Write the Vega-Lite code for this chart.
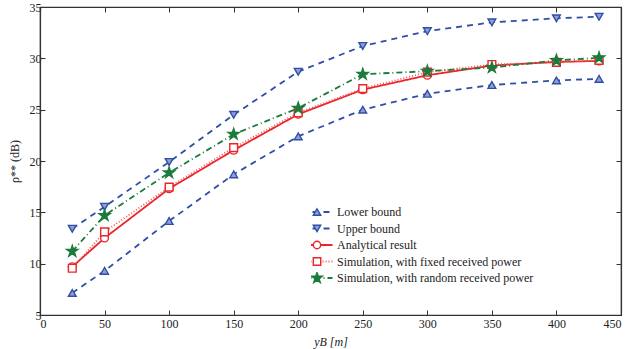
{
  "$schema": "https://vega.github.io/schema/vega-lite/v6.json",
  "width": 581,
  "height": 308,
  "autosize": {"type": "none"},
  "padding": {"left": 40, "top": 7, "right": 11, "bottom": 34},
  "config": {
    "view": {"stroke": "#333333", "strokeWidth": 1.2},
    "font": "Liberation Serif",
    "axis": {"grid": false, "domainColor": "#333333", "domainWidth": 1.2, "tickColor": "#333333", "tickSize": -5, "labelFont": "Liberation Serif", "labelFontSize": 12, "labelColor": "#222222", "titleFont": "Liberation Serif", "titleFontSize": 12, "titleFontWeight": "normal", "titleColor": "#222222"}
  },
  "data": {"values": [
    {"x": 25, "y": 7.15, "s": "Lower bound", "m": "Lower bound"},
    {"x": 50, "y": 9.3, "s": "Lower bound", "m": "Lower bound"},
    {"x": 100, "y": 14.15, "s": "Lower bound", "m": "Lower bound"},
    {"x": 150, "y": 18.7, "s": "Lower bound", "m": "Lower bound"},
    {"x": 200, "y": 22.4, "s": "Lower bound", "m": "Lower bound"},
    {"x": 250, "y": 25.0, "s": "Lower bound", "m": "Lower bound"},
    {"x": 300, "y": 26.55, "s": "Lower bound", "m": "Lower bound"},
    {"x": 350, "y": 27.4, "s": "Lower bound", "m": "Lower bound"},
    {"x": 400, "y": 27.85, "s": "Lower bound", "m": "Lower bound"},
    {"x": 433, "y": 28.0, "s": "Lower bound", "m": "Lower bound"},
    {"x": 25, "y": 13.4, "s": "Upper bound", "m": "Upper bound"},
    {"x": 50, "y": 15.55, "s": "Upper bound", "m": "Upper bound"},
    {"x": 100, "y": 19.9, "s": "Upper bound", "m": "Upper bound"},
    {"x": 150, "y": 24.5, "s": "Upper bound", "m": "Upper bound"},
    {"x": 200, "y": 28.7, "s": "Upper bound", "m": "Upper bound"},
    {"x": 250, "y": 31.2, "s": "Upper bound", "m": "Upper bound"},
    {"x": 300, "y": 32.65, "s": "Upper bound", "m": "Upper bound"},
    {"x": 350, "y": 33.5, "s": "Upper bound", "m": "Upper bound"},
    {"x": 400, "y": 33.9, "s": "Upper bound", "m": "Upper bound"},
    {"x": 433, "y": 34.05, "s": "Upper bound", "m": "Upper bound"},
    {"x": 25, "y": 9.7, "s": "Analytical result", "m": "Analytical result"},
    {"x": 50, "y": 12.5, "s": "Analytical result", "m": "Analytical result"},
    {"x": 100, "y": 17.3, "s": "Analytical result", "m": "Analytical result"},
    {"x": 150, "y": 21.05, "s": "Analytical result", "m": "Analytical result"},
    {"x": 200, "y": 24.55, "s": "Analytical result", "m": "Analytical result"},
    {"x": 250, "y": 26.95, "s": "Analytical result", "m": "Analytical result"},
    {"x": 300, "y": 28.35, "s": "Analytical result", "m": "Analytical result"},
    {"x": 350, "y": 29.3, "s": "Analytical result", "m": "Analytical result"},
    {"x": 400, "y": 29.65, "s": "Analytical result", "m": "Analytical result"},
    {"x": 433, "y": 29.75, "s": "Analytical result", "m": "Analytical result"},
    {"x": 25, "y": 9.55, "s": "Simulation, with fixed received power", "m": "Simulation, with fixed received power"},
    {"x": 50, "y": 13.1, "s": "Simulation, with fixed received power", "m": "Simulation, with fixed received power"},
    {"x": 100, "y": 17.45, "s": "Simulation, with fixed received power", "m": "Simulation, with fixed received power"},
    {"x": 150, "y": 21.3, "s": "Simulation, with fixed received power", "m": "Simulation, with fixed received power"},
    {"x": 200, "y": 24.7, "s": "Simulation, with fixed received power", "m": "Simulation, with fixed received power"},
    {"x": 250, "y": 27.05, "s": "Simulation, with fixed received power", "m": "Simulation, with fixed received power"},
    {"x": 300, "y": 28.65, "s": "Simulation, with fixed received power", "m": "Simulation, with fixed received power"},
    {"x": 350, "y": 29.4, "s": "Simulation, with fixed received power", "m": "Simulation, with fixed received power"},
    {"x": 400, "y": 29.6, "s": "Simulation, with fixed received power", "m": "Simulation, with fixed received power"},
    {"x": 433, "y": 29.8, "s": "Simulation, with fixed received power", "m": "Simulation, with fixed received power"},
    {"x": 25, "y": 11.2, "s": "Simulation, with random received power", "m": "Simulation, with random received power"},
    {"x": 50, "y": 14.7, "s": "Simulation, with random received power", "m": "Simulation, with random received power"},
    {"x": 100, "y": 18.85, "s": "Simulation, with random received power", "m": "Simulation, with random received power"},
    {"x": 150, "y": 22.6, "s": "Simulation, with random received power", "m": "Simulation, with random received power"},
    {"x": 200, "y": 25.15, "s": "Simulation, with random received power", "m": "Simulation, with random received power"},
    {"x": 250, "y": 28.45, "s": "Simulation, with random received power", "m": "Simulation, with random received power"},
    {"x": 300, "y": 28.75, "s": "Simulation, with random received power", "m": "Simulation, with random received power"},
    {"x": 350, "y": 29.1, "s": "Simulation, with random received power", "m": "Simulation, with random received power"},
    {"x": 400, "y": 29.8, "s": "Simulation, with random received power", "m": "Simulation, with random received power"},
    {"x": 433, "y": 30.05, "s": "Simulation, with random received power", "m": "Simulation, with random received power"}
  ]},
  "resolve": {"axis": {"x": "independent", "y": "independent"}},
  "layer": [
    {
      "mark": {"type": "line", "clip": true},
      "encoding": {
        "x": {"field": "x", "type": "quantitative", "scale": {"domain": [0, 450], "nice": false}, "axis": {"values": [0, 50, 100, 150, 200, 250, 300, 350, 400, 450], "title": "yB  [m]", "titleFontStyle": "italic", "titlePadding": 7, "labelPadding": 8}},
        "y": {"field": "y", "type": "quantitative", "scale": {"domain": [5, 35], "nice": false, "zero": false}, "axis": {"values": [5, 10, 15, 20, 25, 30, 35], "title": "ρ** (dB)", "titlePadding": 8, "labelPadding": 4}},
        "color": {"field": "s", "type": "nominal",
          "scale": {"domain": ["Lower bound", "Upper bound", "Analytical result", "Simulation, with fixed received power", "Simulation, with random received power"], "range": ["#2F4FA6", "#2F4FA6", "#EC2528", "#F0555A", "#1B7B3C"]},
          "legend": {"title": null, "orient": "none", "legendX": 271, "legendY": 199, "symbolType": "M-3.1,0H3.1", "symbolSize": 100, "symbolStrokeWidth": 1.8, "labelFont": "Liberation Serif", "labelFontSize": 12, "labelColor": "#222222", "labelOffset": 14, "rowPadding": 4.5, "clipHeight": 12, "labelLimit": 400}},
        "strokeDash": {"field": "s", "type": "nominal",
          "scale": {"domain": ["Lower bound", "Upper bound", "Analytical result", "Simulation, with fixed received power", "Simulation, with random received power"], "range": [[6, 5], [6, 5], [1, 0], [1, 2], [6, 3, 1, 3]]}},
        "strokeWidth": {"field": "s", "type": "nominal", "legend": null,
          "scale": {"domain": ["Lower bound", "Upper bound", "Analytical result", "Simulation, with fixed received power", "Simulation, with random received power"], "range": [1.8, 1.8, 2, 1, 1.8]}}
      }
    },
    {
      "mark": {"type": "point", "filled": false, "opacity": 1, "strokeWidth": 1.4, "size": 60},
      "encoding": {
        "x": {"field": "x", "type": "quantitative", "axis": {"orient": "top", "labels": false, "title": null, "values": [0, 50, 100, 150, 200, 250, 300, 350, 400, 450]}},
        "y": {"field": "y", "type": "quantitative", "axis": {"orient": "right", "labels": false, "title": null, "values": [5, 10, 15, 20, 25, 30, 35]}},
        "shape": {"field": "m", "type": "nominal",
          "scale": {"domain": ["Lower bound", "Upper bound", "Analytical result", "Simulation, with fixed received power", "Simulation, with random received power", "-"], "range": ["triangle-up", "triangle-down", "circle", "square", "M0,-1.5L0.337,-0.464L1.427,-0.464L0.545,0.177L0.882,1.214L0,0.573L-0.882,1.214L-0.545,0.177L-1.427,-0.464L-0.337,-0.464Z", "circle"]},
          "legend": {"title": null, "orient": "none", "legendX": 271, "legendY": 199, "values": ["Lower bound", "Upper bound", "Analytical result", "Simulation, with fixed received power", "Simulation, with random received power"], "symbolSize": 55, "symbolStrokeWidth": 1.4, "labelFont": "Liberation Serif", "labelFontSize": 12, "labelOffset": 6, "labelExpr": "''", "rowPadding": 4.5, "clipHeight": 12, "labelLimit": 400}},
        "stroke": {"field": "m", "type": "nominal",
          "scale": {"domain": ["Lower bound", "Upper bound", "Analytical result", "Simulation, with fixed received power", "Simulation, with random received power", "-"], "range": ["#2F4FA6", "#2F4FA6", "#EC2528", "#EC2528", "#1B7B3C", "#000000"]}},
        "fill": {"field": "m", "type": "nominal",
          "scale": {"domain": ["Lower bound", "Upper bound", "Analytical result", "Simulation, with fixed received power", "Simulation, with random received power", "-"], "range": ["#8EA0D6", "#8EA0D6", "#FFFFFF", "#FFFFFF", "#1B7B3C", "#000000"]}}
      }
    }
  ]
}
